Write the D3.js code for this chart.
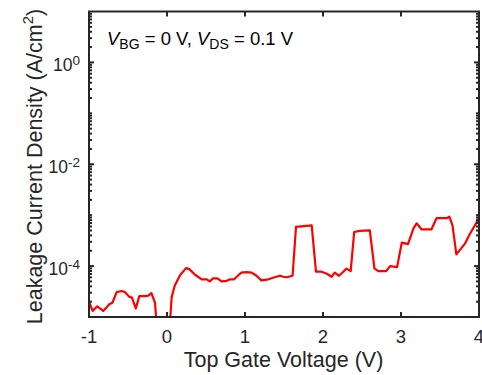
<!DOCTYPE html>
<html><head><meta charset="utf-8">
<script src="https://cdn.jsdelivr.net/npm/d3@7"></script>
<style>
body{margin:0;background:#fff;}
svg{display:block;font-family:"Liberation Sans",Arial,Helvetica,sans-serif;}
</style></head>
<body><svg id="c" width="482" height="375"></svg>
<script>
// Data (V, log10 of J)
const voltage = [-1,-0.953,-0.894,-0.817,-0.74,-0.70,-0.645,-0.58,-0.54,-0.487,-0.45,-0.40,-0.355,-0.28,-0.24,-0.20,-0.154,-0.11,
  0.0,0.03,0.06,0.10,0.167,0.244,0.286,0.36,0.445,0.51,0.55,0.59,0.645,0.70,0.765,0.81,0.86,0.95,1.02,1.085,1.14,1.21,1.30,1.40,1.45,1.49,1.535,1.61,
  1.654,1.855,1.91,1.98,2.05,2.11,2.15,2.205,2.26,2.30,2.355,2.40,2.47,2.60,2.66,2.71,2.81,2.86,2.95,3.01,3.09,3.16,3.20,3.265,3.39,3.455,3.585,3.62,3.66,3.71,3.82,3.875,4.0];
const logJ = [-4.70,-4.88,-4.79,-4.88,-4.75,-4.72,-4.51,-4.49,-4.51,-4.60,-4.62,-4.83,-4.59,-4.59,-4.58,-4.53,-4.72,-5.6,
  -5.6,-5.3,-4.61,-4.38,-4.18,-4.04,-4.06,-4.17,-4.26,-4.26,-4.30,-4.24,-4.24,-4.30,-4.29,-4.26,-4.26,-4.13,-4.12,-4.13,-4.18,-4.28,-4.26,-4.21,-4.19,-4.21,-4.22,-4.19,
  -3.23,-3.20,-4.11,-4.11,-4.15,-4.21,-4.13,-4.19,-4.11,-4.05,-4.10,-3.33,-3.31,-3.30,-4.05,-4.10,-4.10,-4.00,-4.02,-3.54,-3.57,-3.26,-3.16,-3.28,-3.28,-3.06,-3.06,-3.03,-3.20,-3.77,-3.56,-3.39,-3.06];
const xTicks = [-1,0,1,2,3,4];
const yTickExp = [0,-2,-4];
const xLabel = "Top Gate Voltage (V)";

const svg = d3.select("#c");
const L=89, R=479, T=11.5, B=317;
const dark="#262626";
const x = d3.scaleLinear().domain([-1,4]).range([L,R]);
const y = d3.scaleLog().domain([1e-5,1e1]).range([B,T]);

svg.append("clipPath").attr("id","clip").append("rect")
  .attr("x",L).attr("y",T).attr("width",R-L).attr("height",B-T);

const data = voltage.map((v,i)=>({v, j: Math.pow(10,logJ[i])}));
const line = d3.line().x(d=>x(d.v)).y(d=>y(d.j));
svg.append("path").datum(data).attr("d",line).attr("clip-path","url(#clip)")
  .attr("fill","none").attr("stroke","#ff0000").attr("stroke-width",2.2).attr("stroke-linejoin","round");

// ticks
const tg = svg.append("g").attr("stroke",dark).attr("stroke-width",2);
xTicks.forEach(t=>{
  const px=x(t);
  tg.append("line").attr("x1",px).attr("x2",px).attr("y1",B).attr("y2",B-5);
  tg.append("line").attr("x1",px).attr("x2",px).attr("y1",T).attr("y2",T+5);
});
for(let e=-5;e<1;e++){
  for(let m=1;m<10;m++){
    const v=m*Math.pow(10,e);
    const py=y(v);
    const len = (m===1 && yTickExp.includes(e)) ? 5 : 3;
    tg.append("line").attr("x1",L).attr("x2",L+len).attr("y1",py).attr("y2",py);
    tg.append("line").attr("x1",R).attr("x2",R-len).attr("y1",py).attr("y2",py);
  }
}
// frame
svg.append("rect").attr("x",L).attr("y",T).attr("width",R-L).attr("height",B-T)
  .attr("fill","none").attr("stroke",dark).attr("stroke-width",2);

// x tick labels
svg.append("g").selectAll("text").data(xTicks).join("text")
  .attr("x",d=>x(d)).attr("y",343).attr("text-anchor","middle")
  .attr("font-size",18.5).attr("fill",dark).text(d=>d<0?"-"+Math.abs(d):d);

// y tick labels
yTickExp.forEach(e=>{
  const t=svg.append("text").attr("x",80).attr("y",y(Math.pow(10,e))+9).attr("text-anchor","end")
    .attr("font-size",17.5).attr("fill",dark);
  t.append("tspan").text("10");
  t.append("tspan").attr("font-size",13.5).attr("dy",-6.5).text(String(e));
});

// axis labels
svg.append("text").attr("x",283.5).attr("y",367).attr("text-anchor","middle")
  .attr("font-size",21.5).attr("fill",dark).text(xLabel);
const yl=svg.append("text").attr("transform",`translate(42,166.5) rotate(-90)`)
  .attr("text-anchor","middle").attr("font-size",21.5).attr("fill",dark);
yl.append("tspan").text("Leakage Current Density (A/cm");
yl.append("tspan").attr("font-size",15).attr("dy",-9).text("2");
yl.append("tspan").attr("dy",9).text(")");

// annotation
const an=svg.append("text").attr("x",107).attr("y",45).attr("font-size",18.5).attr("fill","#000");
an.append("tspan").attr("font-style","italic").text("V");
an.append("tspan").attr("font-size",14).attr("dy",3.5).text("BG");
an.append("tspan").attr("dy",-3.5).text(" = 0 V, ");
an.append("tspan").attr("font-style","italic").text("V");
an.append("tspan").attr("font-size",14).attr("dy",3.5).text("DS");
an.append("tspan").attr("dy",-3.5).text(" = 0.1 V");
</script></body></html>
